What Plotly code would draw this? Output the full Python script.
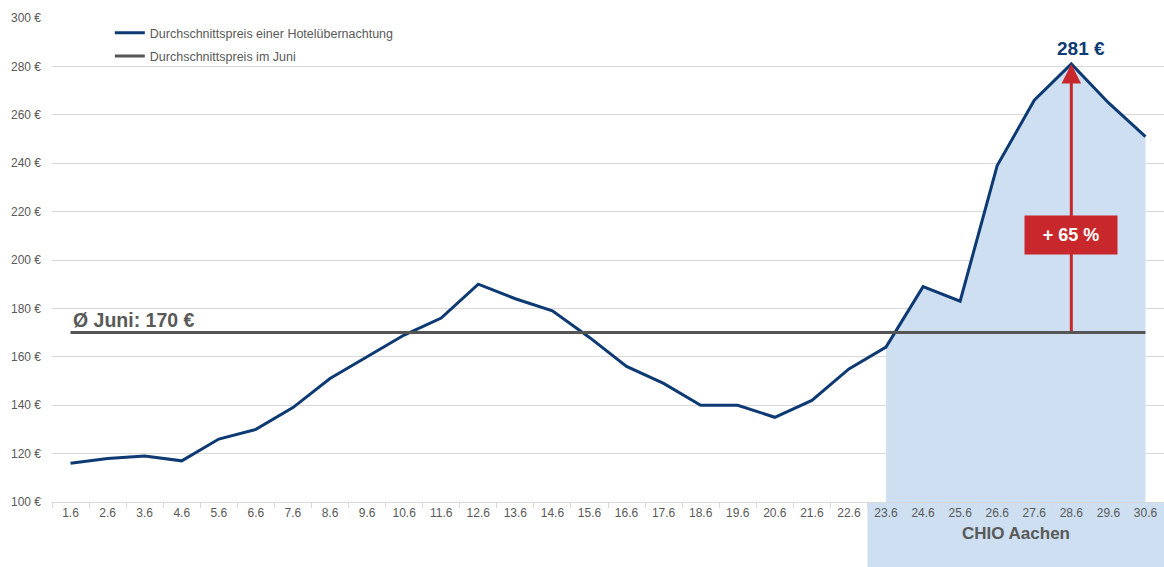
import plotly.graph_objects as go

days = ["1.6","2.6","3.6","4.6","5.6","6.6","7.6","8.6","9.6","10.6","11.6","12.6","13.6","14.6","15.6",
        "16.6","17.6","18.6","19.6","20.6","21.6","22.6","23.6","24.6","25.6","26.6","27.6","28.6","29.6","30.6"]
prices = [116,118,119,117,126,130,139,151,160,169,176,190,184,179,168,
          156,149,140,140,135,142,155,164,189,183,239,266,281,265,251]
june_avg = 170
chio_start = "23.6"
peak_day = "28.6"
peak_value = 281
increase_label = "+ 65 %"

BLUE = "#0d3a73"
GRAY = "#595959"
RED = "#c8282c"
FILL = "#cddff0"

i0 = days.index(chio_start)
ip = days.index(peak_day)

fig = go.Figure()
fig.add_trace(go.Scatter(x=days[i0:], y=prices[i0:], fill="tozeroy", fillcolor=FILL,
                         mode="none", showlegend=False, hoverinfo="skip"))
fig.add_trace(go.Scatter(x=days, y=prices, mode="lines", line=dict(color=BLUE, width=3),
                         name="Durchschnittspreis einer Hotelübernachtung", legendgroup="a"))
fig.add_trace(go.Scatter(x=days, y=[june_avg]*len(days), mode="lines", line=dict(color="#555555", width=3),
                         name="Durchschnittspreis im Juni", legendgroup="b"))

fig.add_shape(type="rect", xref="x", yref="paper", x0=i0-0.5, x1=len(days)-0.5, y0=-0.135, y1=0,
              fillcolor=FILL, line_width=0, layer="below")

fig.add_annotation(x=ip, y=peak_value, ax=ip, ay=june_avg, xref="x", yref="y",
                   axref="x", ayref="y", showarrow=True, arrowhead=2, arrowsize=1.3,
                   arrowwidth=3, arrowcolor=RED, text="")
fig.add_annotation(x=ip, y=210.5, xref="x", yref="y", text="<b>" + increase_label + "</b>",
                   showarrow=False, bgcolor=RED, font=dict(color="white", size=18, family="Liberation Sans"),
                   width=90, height=36)
fig.add_annotation(x=ip + 0.25, y=peak_value, xref="x", yref="y", text="<b>%d €</b>" % peak_value,
                   showarrow=False, yanchor="bottom", yshift=3,
                   font=dict(color=BLUE, size=19, family="Liberation Sans"))
fig.add_annotation(x=0.017, y=june_avg, xref="paper", yref="y", text="<b>Ø Juni: %d €</b>" % june_avg,
                   showarrow=False, xanchor="left", yanchor="bottom", yshift=0,
                   font=dict(color=GRAY, size=19.5, family="Liberation Sans"))
fig.add_annotation(x=(i0 - 0.5 + len(days) - 0.5) / 2, y=-0.089, xref="x", yref="paper",
                   text="<b>CHIO Aachen</b>", showarrow=False,
                   font=dict(color=GRAY, size=17, family="Liberation Sans"))

fig.update_layout(
    width=1164, height=567,
    margin=dict(l=52, r=0, t=18, b=65, autoexpand=False),
    plot_bgcolor="white", paper_bgcolor="white",
    font=dict(family="Liberation Sans", size=12, color=GRAY),
    legend=dict(x=0.052, y=1.0, xanchor="left", yanchor="top", bgcolor="rgba(0,0,0,0)",
                font=dict(size=12.5, color=GRAY), tracegroupgap=4, itemwidth=30),
    xaxis=dict(type="category", categoryorder="array", categoryarray=days,
               showgrid=False, ticks="outside", tickson="boundaries",
               ticklen=5, tickcolor="#d9d9d9", showline=True, linecolor="#d9d9d9",
               tickfont=dict(size=12, color=GRAY), range=[-0.5, len(days)-0.5], automargin=False),
    yaxis=dict(range=[100, 300], dtick=20, gridcolor="#d9d9d9", ticksuffix=" €",
               tickfont=dict(size=12, color=GRAY), zeroline=False, showline=False, ticks="",
               ticklabelstandoff=10, automargin=False),
)

fig.write_html("out.html", config={"displayModeBar": False},
               post_script="document.body.style.margin='0';document.body.style.overflow='hidden';")
